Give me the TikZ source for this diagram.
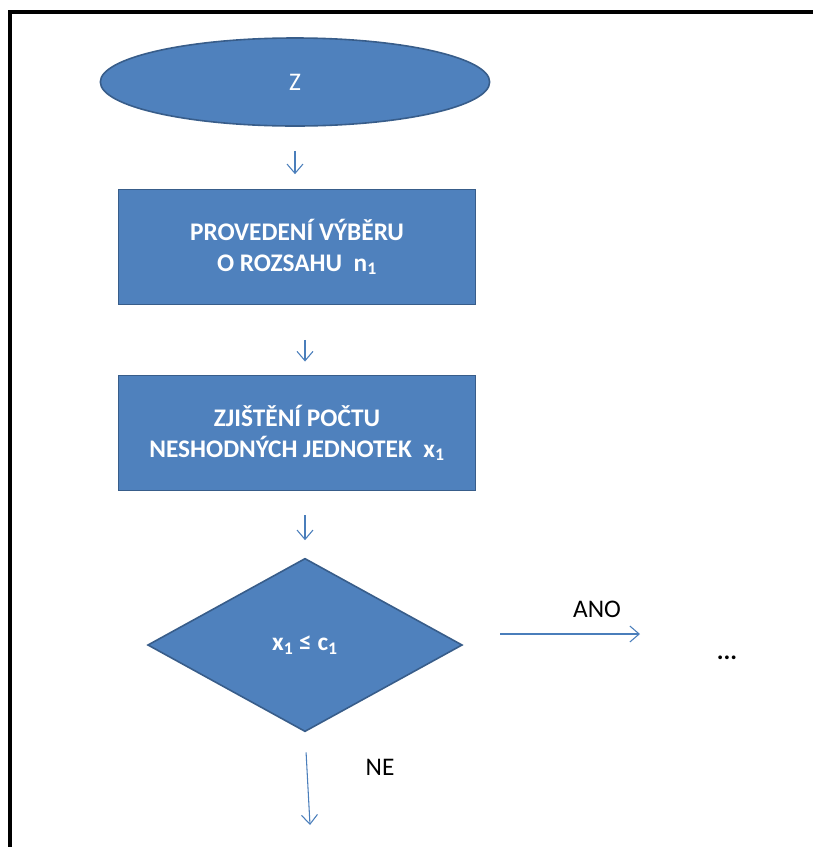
\documentclass[tikz,border=0pt]{standalone}
\usepackage{fontspec}
\setmainfont{Carlito}
\usetikzlibrary{shapes.geometric,arrows.meta}
\definecolor{boxblue}{HTML}{4F81BD}
\definecolor{boxedge}{HTML}{385D8A}
\definecolor{arrowblue}{HTML}{4A7EBB}

\begin{document}
\begin{tikzpicture}[x=0.75pt,y=-0.75pt,
    term/.style={ellipse,draw=boxedge,fill=boxblue,line width=1.2pt,text=white,
      minimum width=292pt,minimum height=66pt,font=\fontsize{19}{23}\selectfont},
    proc/.style={rectangle,draw=boxedge,fill=boxblue,line width=1.2pt,text=white,align=center,
      minimum width=268pt,minimum height=86pt,font=\bfseries\fontsize{19}{23}\selectfont},
    dec/.style={diamond,draw=boxedge,fill=boxblue,line width=1.2pt,text=white,aspect=1.81,
      minimum width=236pt,minimum height=130pt,inner sep=0pt,font=\bfseries\fontsize{19}{23}\selectfont},
    note/.style={font=\fontsize{19}{23}\selectfont},
    flow/.style={arrowblue,line width=0.8pt,-{Straight Barb[length=7pt,width=12pt]}}]
  \useasboundingbox (0,0) rectangle (813,847);
  % frame
  \draw[line width=3pt] (10,847) -- (10,12) -- (813,12);

  \node[term] (z) at (295,82) {Z};
  \node[proc] (sel) at (297,247) {PROVEDENÍ VÝBĚRU\\O ROZSAHU~~n\textsubscript{1}};
  \node[proc] (cnt) at (297,433) {ZJIŠTĚNÍ POČTU\\NESHODNÝCH JEDNOTEK~~x\textsubscript{1}};
  \node[dec] (test) at (305,645) {x\textsubscript{1} ≤ c\textsubscript{1}};

  \coordinate (yes) at (640,634);
  \coordinate (no) at (310,825);
  \node[note] (ano) at (597,609) {ANO};
  \node[note] (ne) at (380,767) {NE};
  \node[note,font=\bfseries\fontsize{19}{23}\selectfont] (more) at (727,658) {...};

  \draw[flow,shorten <=18pt,shorten >=11pt] (z.south) -- (z.south |- sel.north);
  \draw[flow,shorten <=26pt,shorten >=10pt] (test |- sel.south) -- (test |- cnt.north);
  \draw[flow,shorten <=18pt,shorten >=13pt] (test |- cnt.south) -- (test.north);
  \draw[flow,shorten <=28pt] (test.east |- yes) -- (yes);
  \draw[flow,shorten <=15pt] (test.south) -- (no);
\end{tikzpicture}
\end{document}
